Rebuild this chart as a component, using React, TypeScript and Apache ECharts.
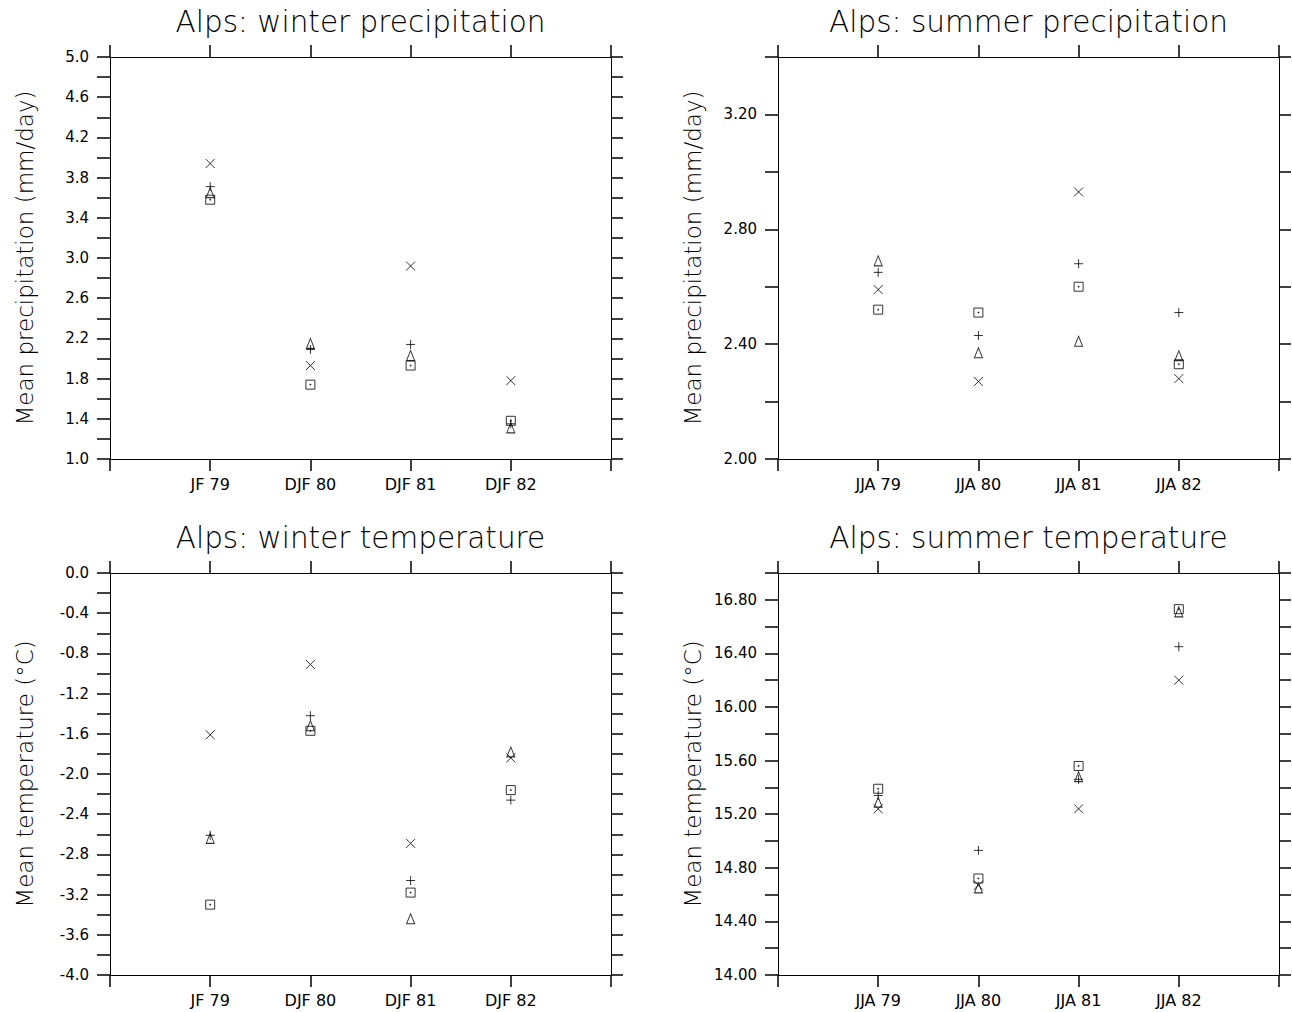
import React, { useEffect, useRef } from 'react';
import * as echarts from 'echarts';

// ---------- data ----------
const winterCategories = ['JF 79', 'DJF 80', 'DJF 81', 'DJF 82'];
const summerCategories = ['JJA 79', 'JJA 80', 'JJA 81', 'JJA 82'];

// winter precipitation (mm/day)
const wpCross = [3.94, 1.93, 2.92, 1.78];
const wpPlus = [3.71, 2.09, 2.14, 1.35];
const wpTriangle = [3.65, 2.15, 2.03, 1.31];
const wpSquare = [3.58, 1.74, 1.93, 1.38];

// summer precipitation (mm/day)
const spCross = [2.59, 2.27, 2.93, 2.28];
const spPlus = [2.65, 2.43, 2.68, 2.51];
const spTriangle = [2.69, 2.37, 2.41, 2.36];
const spSquare = [2.52, 2.51, 2.6, 2.33];

// winter temperature (°C)
const wtCross = [-1.61, -0.91, -2.69, -1.84];
const wtPlus = [-2.61, -1.42, -3.06, -2.26];
const wtTriangle = [-2.64, -1.52, -3.44, -1.78];
const wtSquare = [-3.3, -1.57, -3.18, -2.16];

// summer temperature (°C)
const stCross = [15.24, 14.67, 15.24, 16.2];
const stPlus = [15.34, 14.93, 15.46, 16.45];
const stTriangle = [15.29, 14.65, 15.48, 16.71];
const stSquare = [15.39, 14.72, 15.56, 16.73];

// axis ranges / tick labels
const wpRange = [1.0, 5.0];
const spRange = [2.0, 3.4];
const wtRange = [-4.0, 0.0];
const stRange = [14.0, 17.0];
const minorStep = 0.2;
const labelStep = 0.4;

const titles = [
  'Alps: winter precipitation',
  'Alps: summer precipitation',
  'Alps: winter temperature',
  'Alps: summer temperature',
];
const yTitles = [
  'Mean precipitation (mm/day)',
  'Mean precipitation (mm/day)',
  'Mean temperature (°C)',
  'Mean temperature (°C)',
];

// ---------- styling ----------
const FONT = '"DejaVu Sans", "Liberation Sans", sans-serif';
const SYM = {
  cross: 'path://M0,0L10,10M10,0L0,10',
  plus: 'path://M5,0L5,10M0,5L10,5',
  triangle: 'path://M5,0L10,10L0,10Z',
  square: 'path://M0,0L10,0L10,10L0,10ZM4.5,4.5L5.5,4.5L5.5,5.5L4.5,5.5Z',
};

const panels = [
  { cats: winterCategories, range: wpRange, dec: 1, series: [wpCross, wpPlus, wpTriangle, wpSquare], grid: { left: 110, top: 57, width: 501, height: 402 } },
  { cats: summerCategories, range: spRange, dec: 2, series: [spCross, spPlus, spTriangle, spSquare], grid: { left: 778, top: 57, width: 501, height: 402 } },
  { cats: winterCategories, range: wtRange, dec: 1, series: [wtCross, wtPlus, wtTriangle, wtSquare], grid: { left: 110, top: 573, width: 501, height: 402 } },
  { cats: summerCategories, range: stRange, dec: 2, series: [stCross, stPlus, stTriangle, stSquare], grid: { left: 778, top: 573, width: 501, height: 402 } },
];

const seriesDefs = [
  { name: 'cross', symbol: SYM.cross, size: [9, 9] },
  { name: 'plus', symbol: SYM.plus, size: [9, 9] },
  { name: 'triangle', symbol: SYM.triangle, size: [8, 10] },
  { name: 'square', symbol: SYM.square, size: [9, 9] },
];

function buildOption() {
  const grid: any[] = [];
  const xAxis: any[] = [];
  const yAxis: any[] = [];
  const series: any[] = [];
  const graphic: any[] = [];

  panels.forEach((p, i) => {
    grid.push({ ...p.grid });
    const catData = ['', ...p.cats, ''];
    const lineStyle = { color: '#000', width: 1 };
    const tickStyle = { color: '#000', width: 1.5 };
    xAxis.push({
      type: 'category', gridIndex: i, position: 'bottom', data: catData, boundaryGap: false,
      axisLine: { show: true, onZero: false, lineStyle },
      axisTick: { show: true, inside: false, length: 12, interval: 0, lineStyle: tickStyle },
      axisLabel: { show: true, interval: 0, margin: 17, color: '#000', fontSize: 16, fontFamily: FONT },
      splitLine: { show: false },
    });
    xAxis.push({
      type: 'category', gridIndex: i, position: 'top', data: catData, boundaryGap: false,
      axisLine: { show: true, onZero: false, lineStyle },
      axisTick: { show: true, inside: false, length: 12, interval: 0, lineStyle: tickStyle },
      axisLabel: { show: false },
      splitLine: { show: false },
    });
    const [mn, mx] = p.range;
    const fmt = (v: number) => {
      const k = (v - mn) / labelStep;
      if (Math.abs(k - Math.round(k)) > 1e-6) return '';
      const val = Math.abs(v) < 1e-9 ? 0 : v;
      return val.toFixed(p.dec);
    };
    yAxis.push({
      type: 'value', gridIndex: i, position: 'left', min: mn, max: mx, interval: minorStep,
      axisLine: { show: true, onZero: false, lineStyle },
      axisTick: { show: true, inside: false, length: 13, lineStyle: tickStyle },
      axisLabel: { show: true, margin: 21, color: '#000', fontSize: 15, fontFamily: FONT, formatter: fmt, showMinLabel: true, showMaxLabel: true },
      splitLine: { show: false },
    });
    yAxis.push({
      type: 'value', gridIndex: i, position: 'right', min: mn, max: mx, interval: minorStep,
      axisLine: { show: true, onZero: false, lineStyle },
      axisTick: { show: true, inside: false, length: 12, lineStyle: tickStyle },
      axisLabel: { show: false },
      splitLine: { show: false },
    });

    p.series.forEach((vals, s) => {
      const def = seriesDefs[s];
      series.push({
        type: 'scatter', name: def.name, xAxisIndex: i * 2, yAxisIndex: i * 2,
        symbol: def.symbol, symbolSize: def.size,
        itemStyle: { color: 'transparent', borderColor: '#000', borderWidth: 1 },
        data: vals.map((v, k) => [k + 1, v]),
        silent: true,
      });
    });

    const cx = p.grid.left + p.grid.width / 2;
    const cy = p.grid.top + p.grid.height / 2;
    graphic.push({
      type: 'text', x: cx, y: p.grid.top - 35,
      style: { text: titles[i], fontSize: 29.5, fontWeight: 200, fontFamily: FONT, fill: '#000', textAlign: 'center', textVerticalAlign: 'middle', align: 'center', verticalAlign: 'middle' },
    });
    graphic.push({
      type: 'text', x: p.grid.left - 85, y: cy, rotation: Math.PI / 2,
      style: { text: yTitles[i], fontSize: 23, fontWeight: 200, fontFamily: FONT, fill: '#000', textAlign: 'center', textVerticalAlign: 'middle', align: 'center', verticalAlign: 'middle' },
    });
  });

  return { animation: false, backgroundColor: '#fff', grid, xAxis, yAxis, series, graphic };
}

export default function App() {
  const ref = useRef<HTMLDivElement>(null);
  useEffect(() => {
    if (!ref.current) return;
    const chart = echarts.init(ref.current, undefined, { renderer: 'svg' });
    chart.setOption(buildOption() as any);
    return () => chart.dispose();
  }, []);
  return (
    <div
      ref={ref}
      style={{ position: 'fixed', left: 0, top: 0, width: 1292, height: 1012, background: '#fff' }}
    />
  );
}
